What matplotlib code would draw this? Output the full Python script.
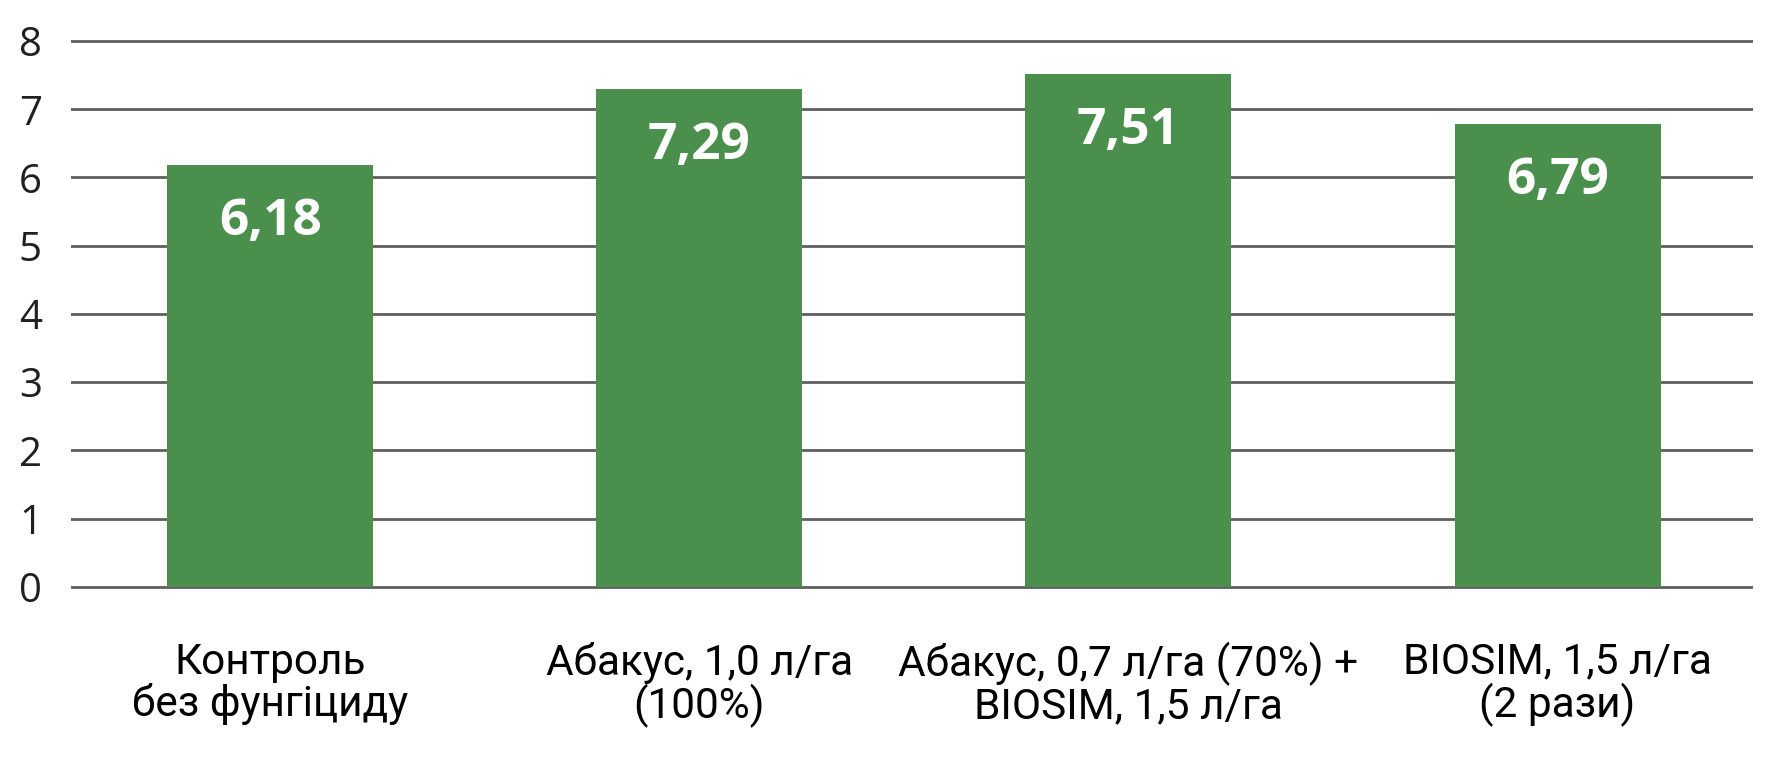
import matplotlib
matplotlib.use("Agg")
import matplotlib.pyplot as plt

# chart data
categories = [
    "Контроль\nбез фунгіциду",
    "Абакус, 1,0 л/га\n(100%)",
    "Абакус, 0,7 л/га (70%) +\nBIOSIM, 1,5 л/га",
    "BIOSIM, 1,5 л/га\n(2 рази)",
]
values = [6.18, 7.29, 7.51, 6.79]
yticks = [0, 1, 2, 3, 4, 5, 6, 7, 8]

bar_color = "#4b8f4c"
grid_color = "#5f5f5f"
text_color = "#231f20"

fig = plt.figure(figsize=(17.85, 7.66), dpi=100)
ax = fig.add_axes([0.0398, 0.2296, 0.9424, 0.7257])

x = list(range(len(categories)))
ax.bar(x, values, width=0.48, color=bar_color, zorder=3)

for xi, v in zip(x, values):
    ax.annotate(f"{v:.2f}".replace(".", ","), (xi, v), xytext=(0, -41),
                textcoords="offset points", ha="center", va="center",
                color="white", fontsize=37, fontweight="bold",
                fontfamily="Open Sans", zorder=4)

ax.set_xlim(-0.464, 3.456)
ax.set_ylim(-0.05, 8.1)
ax.set_yticks(yticks)
ax.set_yticklabels([str(t) for t in yticks], fontfamily="Open Sans",
                   fontsize=29, color=text_color)
ax.yaxis.grid(True, color=grid_color, linewidth=2, zorder=0)
ax.tick_params(axis="y", length=0, pad=21)

ax.set_xticks(x)
ax.set_xticklabels(categories, fontfamily="Roboto", fontsize=30.5,
                   color="black", linespacing=1.02)
ax.tick_params(axis="x", length=0, pad=37)

for s in ax.spines.values():
    s.set_visible(False)

fig.savefig("out.png", dpi=100, facecolor="white")
